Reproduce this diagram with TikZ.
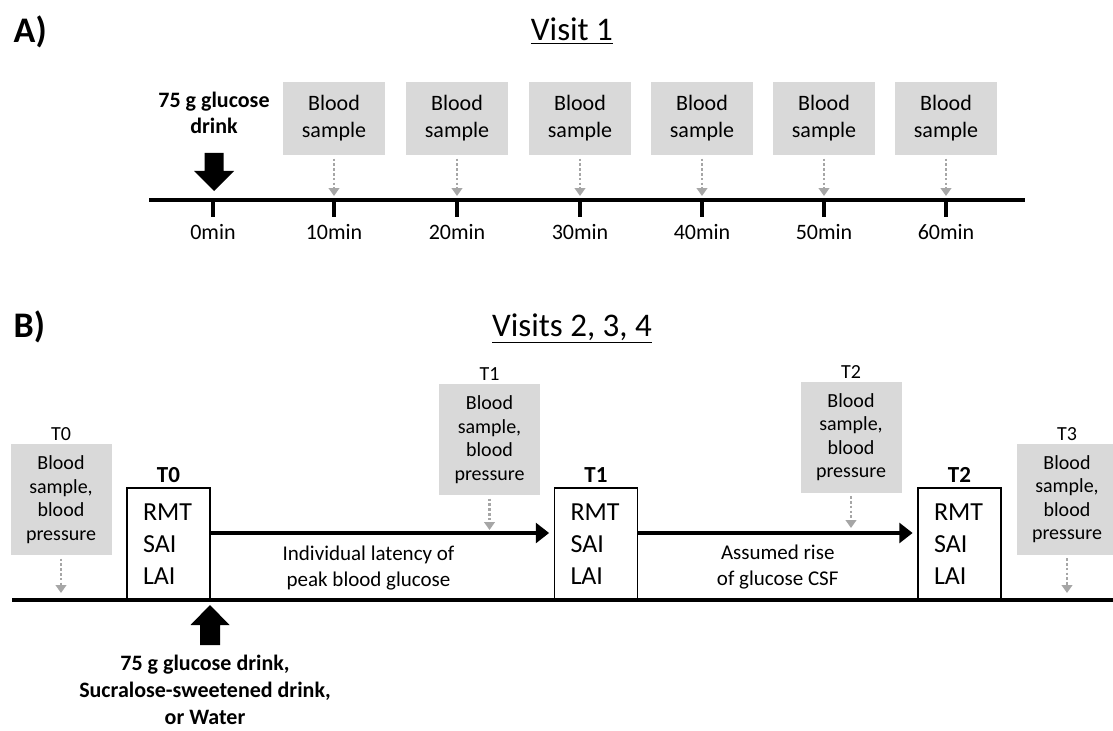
\documentclass[tikz,border=0pt]{standalone}
\usepackage{fontspec}
\setmainfont{Carlito}
\usetikzlibrary{positioning,arrows.meta}
\definecolor{boxgray}{HTML}{D9D9D9}
\definecolor{dotgray}{HTML}{A6A6A6}

\begin{document}
\begin{tikzpicture}[x=0.75pt, y=-0.75pt,
          timeline/.style={line width=3.2pt},
          ticmark/.style={line width=3.2pt},
          sample/.style={fill=boxgray, align=center, minimum width=76.5pt, minimum height=54.75pt, inner sep=1pt, font=\fontsize{16.5}{20.25}\selectfont},
          sampleB/.style={sample, minimum width=75.75pt, minimum height=83.25pt, font=\fontsize{15}{17.6}\selectfont},
          samplearrow/.style={draw=dotgray, line width=1.6pt, dash pattern=on 2pt off 1.6pt, -{Triangle[length=6pt, width=8pt]}, shorten <=2.5pt},
          tms/.style={draw, line width=1.1pt, align=left, text width=38.25pt, inner xsep=12pt, inner ysep=0pt, minimum height=84pt, font=\fontsize{19.5}{24}\selectfont},
          timearrow/.style={line width=2.3pt, -{Triangle[length=10pt, width=15pt]}, shorten >=3.5pt},
          minlabel/.style={font=\fontsize{16.5}{20}\selectfont},
          tlabel/.style={inner sep=1pt, font=\fontsize{15}{18}\selectfont},
          tbold/.style={inner sep=1pt, font=\bfseries\fontsize{17.25}{20}\selectfont},
          phase/.style={align=center, font=\fontsize{15.75}{19.5}\selectfont},
          drink/.style={align=center, font=\bfseries\fontsize{16.5}{19.5}\selectfont},
          panel/.style={anchor=base west, font=\bfseries\fontsize{27}{30}\selectfont},
          title/.style={anchor=base, font=\fontsize{24.75}{28}\selectfont},
          ]
          \useasboundingbox (0,0) rectangle (1113,731);
          \clip (0,0) rectangle (1113,731);

          % A) Visit 1
          \node[panel] (panelA) at (9,43) {A)};
          \node[title] (titleA) at (572,41) {\underline{Visit 1}};

          \draw[timeline] (149,200) -- (1025,200);
          \coordinate (t0) at (213,200);
          \coordinate (t10) at (334,200);
          \coordinate (t20) at (457,200);
          \coordinate (t30) at (580,200);
          \coordinate (t40) at (702,200);
          \coordinate (t50) at (824,200);
          \coordinate (t60) at (946,200);

          \draw[ticmark] (t0) -- ++(0,17);
          \draw[ticmark] (t10) -- ++(0,17);
          \draw[ticmark] (t20) -- ++(0,17);
          \draw[ticmark] (t30) -- ++(0,17);
          \draw[ticmark] (t40) -- ++(0,17);
          \draw[ticmark] (t50) -- ++(0,17);
          \draw[ticmark] (t60) -- ++(0,17);

          \node[minlabel] (m0) at (213,232) {0min};
          \node[minlabel] (m10) at (334,232) {10min};
          \node[minlabel] (m20) at (457,232) {20min};
          \node[minlabel] (m30) at (580,232) {30min};
          \node[minlabel] (m40) at (702,232) {40min};
          \node[minlabel] (m50) at (824,232) {50min};
          \node[minlabel] (m60) at (946,232) {60min};

          \node[drink] (drinkA) at (214,113) {75 g glucose\\drink};
          \coordinate (drinkAtip) at (214,191);
          \fill[shift={(drinkAtip)}] (0,0) -- (-20,-20) -- (-9.5,-20) -- (-9.5,-38) -- (9.5,-38) -- (9.5,-20) -- (20,-20) -- cycle;

          \node[sample] (bs10) at (334,118.5) {Blood\\sample};
          \node[sample] (bs20) at (457,118.5) {Blood\\sample};
          \node[sample] (bs30) at (580,118.5) {Blood\\sample};
          \node[sample] (bs40) at (702,118.5) {Blood\\sample};
          \node[sample] (bs50) at (824,118.5) {Blood\\sample};
          \node[sample] (bs60) at (946,118.5) {Blood\\sample};

          \draw[samplearrow, shorten >=3pt] (bs10) -- (t10);
          \draw[samplearrow, shorten >=3pt] (bs20) -- (t20);
          \draw[samplearrow, shorten >=3pt] (bs30) -- (t30);
          \draw[samplearrow, shorten >=3pt] (bs40) -- (t40);
          \draw[samplearrow, shorten >=3pt] (bs50) -- (t50);
          \draw[samplearrow, shorten >=3pt] (bs60) -- (t60);

          % B) Visits 2, 3, 4
          \node[panel] (panelB) at (9,337) {B)};
          \node[title] (titleB) at (572,336) {\underline{Visits 2, 3, 4}};

          \draw[timeline] (12,600) -- (1113,600);

          \node[sampleB] (gT0) at (61,499.5) {Blood\\sample,\\blood\\pressure};
          \node[sampleB] (gT1) at (489.5,439.5) {Blood\\sample,\\blood\\pressure};
          \node[sampleB] (gT2) at (851,437) {Blood\\sample,\\blood\\pressure};
          \node[sampleB] (gT3) at (1067,499) {Blood\\sample,\\blood\\pressure};
          \node[tlabel, above=1pt of gT0] (gT0lbl) {T0};
          \node[tlabel, above=1pt of gT1] (gT1lbl) {T1};
          \node[tlabel, above=1pt of gT2] (gT2lbl) {T2};
          \node[tlabel, above=1pt of gT3] (gT3lbl) {T3};

          \node[tms] (mT0) at (168.5,544) {RMT\\SAI\\LAI};
          \node[tms] (mT1) at (596,544) {RMT\\SAI\\LAI};
          \node[tms] (mT2) at (959.5,544) {RMT\\SAI\\LAI};
          \node[tbold, above=2.5pt of mT0] (mT0lbl) {T0};
          \node[tbold, above=2.5pt of mT1] (mT1lbl) {T1};
          \node[tbold, above=2.5pt of mT2] (mT2lbl) {T2};

          \draw[timearrow] ([yshift=8.25pt]mT0.east) -- ([yshift=8.25pt]mT1.west)
                node[phase, pos=0.46, yshift=-26.6pt] (latency) {Individual latency of\\peak blood glucose};
          \draw[timearrow] ([yshift=8.25pt]mT1.east) -- ([yshift=8.25pt]mT2.west)
                node[phase, midway, yshift=-25.5pt] (rise) {Assumed rise\\of glucose CSF};

          \coordinate (hT0) at (61,593);
          \coordinate (hT1) at (489.5,530);
          \coordinate (hT2) at (851,528);
          \coordinate (hT3) at (1067,593);
          \draw[samplearrow] (gT0) -- (hT0);
          \draw[samplearrow] (gT1) -- (hT1);
          \draw[samplearrow] (gT2) -- (hT2);
          \draw[samplearrow] (gT3) -- (hT3);

          \coordinate (drinkBtip) at (210,605);
          \fill[shift={(drinkBtip)}] (0,0) -- (-19.5,20) -- (-10,20) -- (-10,40) -- (10,40) -- (10,20) -- (19.5,20) -- cycle;
          \node[drink, font=\bfseries\fontsize{16.5}{20.25}\selectfont] (drinkB) at (205,690) {75 g glucose drink,\\Sucralose-sweetened drink,\\or Water};

        \end{tikzpicture}
\end{document}
